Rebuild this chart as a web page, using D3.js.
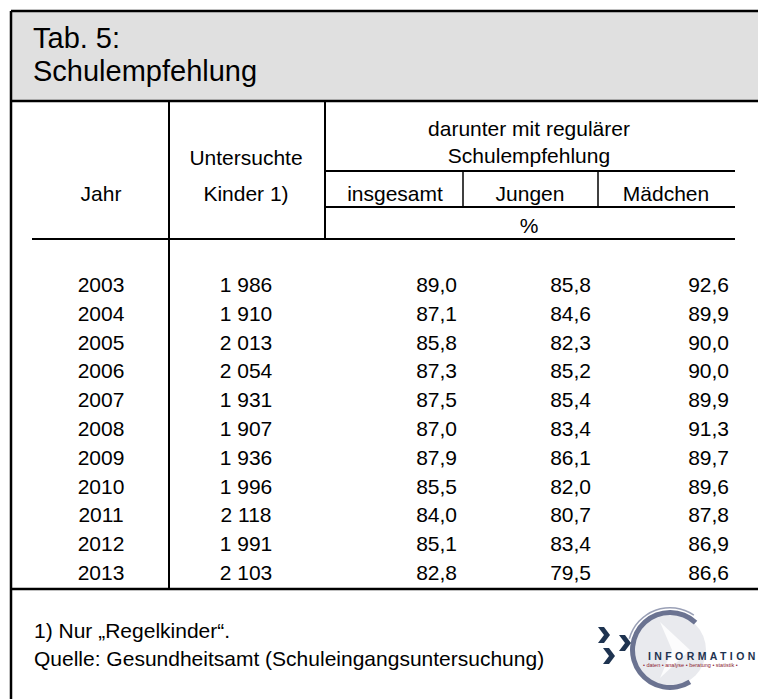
<!DOCTYPE html>
<html>
<head>
<meta charset="utf-8">
<script src="https://cdn.jsdelivr.net/npm/d3@7"></script>
<style>
  body { margin: 0; background: #fff; }
  svg text { font-family: "Liberation Sans", Arial, sans-serif; fill: #000; }
</style>
</head>
<body>
<div id="tab"></div>
<script>
// Daten
var jahre = [2003, 2004, 2005, 2006, 2007, 2008, 2009, 2010, 2011, 2012, 2013];
var kinder = [1986, 1910, 2013, 2054, 1931, 1907, 1936, 1996, 2118, 1991, 2103];
var insgesamt = [89.0, 87.1, 85.8, 87.3, 87.5, 87.0, 87.9, 85.5, 84.0, 85.1, 82.8];
var jungen = [85.8, 84.6, 82.3, 85.2, 85.4, 83.4, 86.1, 82.0, 80.7, 83.4, 79.5];
var maedchen = [92.6, 89.9, 90.0, 90.0, 89.9, 91.3, 89.7, 89.6, 87.8, 86.9, 86.6];

var titel = ["Tab. 5:", "Schulempfehlung"];
var fussnoten = ["1) Nur \u201eRegelkinder\u201c.", "Quelle: Gesundheitsamt (Schuleingangsuntersuchung)"];

var width = 758, height = 699;
var fs = 21;

var de = d3.formatLocale({decimal: ",", thousands: "\u2009", grouping: [3], currency: ["", " \u20ac"]});
var fmtInt = function (v) { return de.format(",d")(v).replace("\u2009", " "); };
var fmtPct = de.format(".1f");

var svg = d3.select("#tab").append("svg")
    .attr("width", width)
    .attr("height", height);

// Kopf grau
svg.append("rect")
    .attr("x", 11).attr("y", 11)
    .attr("width", width - 11).attr("height", 90)
    .attr("fill", "#e0e0e0");

svg.selectAll(".titel")
    .data(titel)
    .enter().append("text")
    .attr("class", "titel")
    .attr("x", 33)
    .attr("y", function (d, i) { return 48 + i * 33; })
    .style("font-size", "29px")
    .text(function (d) { return d; });

// Linien
var linien = [
    [11, 11, width, 11, 2.5],
    [11, 101, width, 101, 2.5],
    [11, 11, 11, height, 2.5],
    [169, 101, 169, 589, 2],
    [325, 101, 325, 239, 2],
    [325, 171, 735, 171, 2],
    [325, 207, 735, 207, 2],
    [463, 171, 463, 207, 1.5],
    [598, 171, 598, 207, 1.5],
    [32, 239, 735, 239, 2],
    [11, 589, width, 589, 2.5]
];
svg.selectAll(".linie")
    .data(linien)
    .enter().append("line")
    .attr("class", "linie")
    .attr("x1", function (d) { return d[0]; })
    .attr("y1", function (d) { return d[1]; })
    .attr("x2", function (d) { return d[2]; })
    .attr("y2", function (d) { return d[3]; })
    .attr("stroke", "#000")
    .attr("stroke-width", function (d) { return d[4]; });

// Spaltenkoepfe
var kopf = [
    {t: "Jahr", x: 101, y: 201},
    {t: "Untersuchte", x: 246, y: 165},
    {t: "Kinder 1)", x: 246, y: 201},
    {t: "darunter mit regul\u00e4rer", x: 529, y: 136},
    {t: "Schulempfehlung", x: 529, y: 163},
    {t: "insgesamt", x: 395, y: 201},
    {t: "Jungen", x: 530, y: 201},
    {t: "M\u00e4dchen", x: 666, y: 201},
    {t: "%", x: 529, y: 233}
];
svg.selectAll(".kopf")
    .data(kopf)
    .enter().append("text")
    .attr("class", "kopf")
    .attr("x", function (d) { return d.x; })
    .attr("y", function (d) { return d.y; })
    .attr("text-anchor", "middle")
    .style("font-size", fs + "px")
    .text(function (d) { return d.t; });

// Zeilen
var y = d3.scalePoint().domain(jahre).range([292, 580]);

var spalten = [
    {werte: jahre, x: 101, anchor: "middle", fmt: function (v) { return String(v); }},
    {werte: kinder, x: 246, anchor: "middle", fmt: fmtInt},
    {werte: insgesamt, x: 457, anchor: "end", fmt: fmtPct},
    {werte: jungen, x: 591, anchor: "end", fmt: fmtPct},
    {werte: maedchen, x: 729, anchor: "end", fmt: fmtPct}
];

spalten.forEach(function (sp) {
    svg.append("g").selectAll("text")
        .data(sp.werte)
        .enter().append("text")
        .attr("x", sp.x)
        .attr("y", function (d, i) { return y(jahre[i]); })
        .attr("text-anchor", sp.anchor)
        .style("font-size", fs + "px")
        .text(function (d) { return sp.fmt(d); });
});

// Fussnoten
svg.selectAll(".fuss")
    .data(fussnoten)
    .enter().append("text")
    .attr("class", "fuss")
    .attr("x", 34)
    .attr("y", function (d, i) { return 638 + i * 28; })
    .style("font-size", "21px")
    .text(function (d) { return d; });

// Logo (grob)
var logo = svg.append("g").attr("transform", "translate(670,650)");
logo.append("circle").attr("r", 36).attr("fill", "#e9eaee");
logo.append("path")
    .attr("d", "M-10,-28 L20,0 L-10,28 L2,0 Z")
    .attr("fill", "#ffffff").attr("opacity", 0.85);
var bogen = d3.arc().innerRadius(35).outerRadius(40).startAngle(0.75).endAngle(-3.7);
logo.append("path").attr("d", bogen()).attr("fill", "#6b7391");
var bogen2 = d3.arc().innerRadius(41.5).outerRadius(43).startAngle(0.6).endAngle(-1.3);
logo.append("path").attr("d", bogen2()).attr("fill", "#9aa0b6");

var pfeil = "M0,0 L6,0 L12,8 L6,16 L0,16 L6,8 Z";
[[-72, -23], [-51, -15], [-67, -2]].forEach(function (p) {
    logo.append("path")
        .attr("d", pfeil)
        .attr("transform", "translate(" + p[0] + "," + p[1] + ")")
        .attr("fill", "#1e3350");
});
logo.append("text")
    .attr("x", -22).attr("y", 10)
    .style("font-size", "10.5px")
    .style("font-weight", "bold")
    .style("letter-spacing", "3.4px")
    .style("fill", "#1e3350")
    .text("INFORMATION");
logo.append("text")
    .attr("x", -27).attr("y", 17)
    .style("font-size", "5.5px")
    .style("fill", "#8b2332")
    .text("\u2022 daten \u2022 analyse \u2022 beratung \u2022 statistik \u2022");
</script>
</body>
</html>
